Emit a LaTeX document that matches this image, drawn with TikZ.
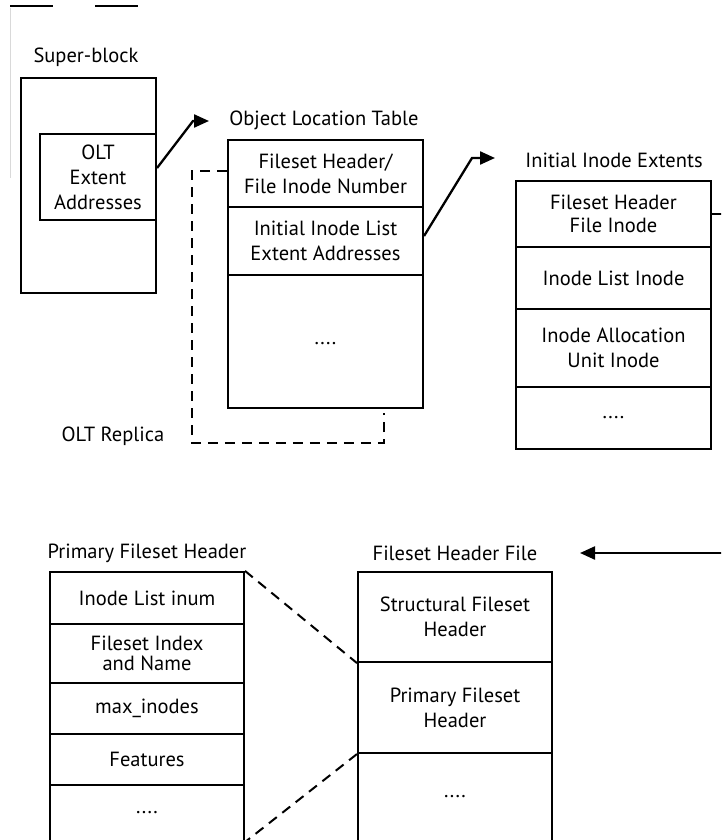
\documentclass[tikz,border=0pt]{standalone}
\usepackage{fontspec}
\setmainfont{PT Sans}
\usetikzlibrary{arrows.meta}
\begin{document}
\begin{tikzpicture}[x=1pt,y=-1pt,
  txt/.style={font=\fontsize{20.5}{25}\selectfont},
  cell/.style 2 args={draw,line width=2.1pt,inner sep=0pt,txt,align=center,
    minimum width=#1,minimum height=#2},
  lbl/.style={txt,inner sep=0pt},
  link/.style={line width=2.3pt,line join=miter,-{Triangle[length=15pt,width=13pt]}},
  replica/.style={line width=2pt,dash pattern=on 10pt off 7pt}]
\useasboundingbox (0,0) rectangle (721,840);
\clip (0,0) rectangle (721,840);

% stray rules at the top left
\draw[line width=1.3pt] (10,6) -- (53,6) (95,6) -- (138,6);
\draw[gray!30,line width=1pt] (10,8) -- (10,178);

% super-block
\node[lbl] (sblbl) at (86,57) {Super-block};
\node[cell={135pt}{215pt}] (sb) at (88.5,185.5) {};
\node[cell={116pt}{86pt},fill=white] (sbi) at (98,177) {OLT\\Extent\\Addresses};

% object location table
\node[lbl] (oltlbl) at (324,120) {Object Location Table};
\node[cell={195pt}{67pt}] (olt1) at (325.5,173.5) {Fileset Header/\\File Inode Number};
\node[cell={195pt}{68pt}] (olt2) at (325.5,241) {Initial Inode List\\Extent Addresses};
\node[cell={195pt}{133pt}] (olt3) at (325.5,341.5) {\raisebox{-6pt}{....}};
\node[lbl] (replbl) at (113,436) {OLT Replica};

% initial inode extents
\node[lbl] (iielbl) at (614,160) {Initial Inode Extents};
\node[cell={195pt}{66pt},font=\fontsize{20.5}{23}\selectfont] (iie1) at (613.5,214) {Fileset Header\\File Inode};
\node[cell={195pt}{62pt}] (iie2) at (613.5,278) {Inode List Inode};
\node[cell={195pt}{78pt}] (iie3) at (613.5,348) {Inode Allocation\\Unit Inode};
\node[cell={195pt}{62pt}] (iie4) at (613.5,418) {....};

% primary fileset header
\node[lbl] (pfhlbl) at (147,553) {Primary Fileset Header};
\node[cell={194pt}{52pt}] (pfh1) at (147,598) {Inode List inum};
\node[cell={194pt}{59pt},font=\fontsize{20.5}{20}\selectfont] (pfh2) at (147,653.5) {Fileset Index\\and Name};
\node[cell={194pt}{51pt}] (pfh3) at (147,708.5) {max\_inodes};
\node[cell={194pt}{51pt}] (pfh4) at (147,759.5) {Features};
\node[cell={194pt}{56pt}] (pfh5) at (147,813) {....};

% fileset header file
\node[lbl] (fhflbl) at (455,553) {Fileset Header File};
\node[cell={194pt}{90pt}] (fhf1) at (455,617) {Structural Fileset\\Header};
\node[cell={194pt}{91pt}] (fhf2) at (455,707.5) {Primary Fileset\\Header};
\node[cell={194pt}{88pt}] (fhf3) at (455,797) {....};

% connectors
\coordinate (c1) at (193,121);
\coordinate (e1) at (209,121);
\draw[link] ([yshift=9pt]sbi.east) -- (c1) -- (e1);

\coordinate (c2) at (472,158);
\coordinate (e2) at (495,158);
\draw[link] ([yshift=5pt]olt2.east) -- (c2) -- (e2);

\coordinate (e3) at (724,214);
\draw[line width=2.1pt] (iie1.east) -- (e3);

\coordinate (s4) at (724,553);
\coordinate (e4) at (580,553);
\draw[link] (s4) -- (e4);

\coordinate (e5) at (384,413);
\draw[replica] ([yshift=2.5pt]olt1.west) -- ++(-35,0) |- (384,443) -- (e5);

\draw[replica] (pfh1.north east) -- (fhf1.south west);
\draw[replica] (fhf2.south west) -- (pfh5.south east);
\end{tikzpicture}
\end{document}
